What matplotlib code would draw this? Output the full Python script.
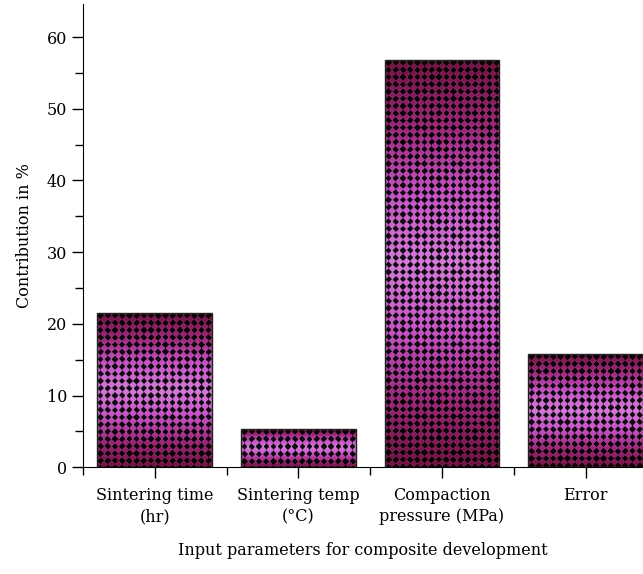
import matplotlib
matplotlib.use('Agg')
import numpy as np
import matplotlib.pyplot as plt
from matplotlib.colors import LinearSegmentedColormap
from matplotlib.ticker import MultipleLocator

params = ["Sintering time\n(hr)", "Sintering temp\n(°C)", "Compaction\npressure (MPa)", "Error"]
contribution = [21.5, 5.3, 56.8, 15.8]

plt.rcParams['font.family'] = ['DejaVu Serif']
plt.rcParams['font.size'] = 11.5

fig = plt.figure(figsize=(6.43, 5.74), dpi=100)
ax = fig.add_axes([0.129, 0.186, 0.871, 0.807])

x = np.arange(1, len(params) + 1)
bars = ax.bar(x, contribution, width=0.8, facecolor='none', edgecolor='#222222', linewidth=1.0, zorder=3)

ax.set_xlim(0.5, 4.4)
ax.set_ylim(0, 64.6)

# gradient + dotted pattern inside each bar
cmap = LinearSegmentedColormap.from_list('mg', ['#6e1540', '#9a2a7a', '#c455c4', '#d47ad8', '#c455c4', '#9a2a7a', '#6e1540'])
fig.canvas.draw()
pitch = 7.2
for b in bars:
    x0, y0 = ax.transData.transform((b.get_x(), 0))
    x1, y1 = ax.transData.transform((b.get_x() + b.get_width(), b.get_height()))
    w = int(round(x1 - x0)); h = int(round(y1 - y0))
    yy, xx = np.mgrid[0:h, 0:w]
    t = (yy + 0.5) / h
    rgb = cmap(t)[..., :3]
    dx = ((xx + 0.5) % pitch) - pitch / 2
    dy = ((yy + 0.5) % pitch) - pitch / 2
    dots = (np.abs(dx) + np.abs(dy)) < 3.2
    rgb[dots] = rgb[dots] * 0.08
    im = ax.imshow(rgb, extent=(b.get_x(), b.get_x() + b.get_width(), 0, b.get_height()),
                   aspect='auto', interpolation='bilinear', zorder=2)
    im.set_clip_path(b)

ax.set_xticks(x)
ax.set_xticklabels(params, linespacing=1.35)
ax.set_xticks(np.arange(0.5, 4.5, 1.0), minor=True)
ax.yaxis.set_major_locator(MultipleLocator(10))
ax.yaxis.set_minor_locator(MultipleLocator(5))
ax.tick_params(which='major', direction='out', length=8, width=1.0)
ax.tick_params(which='minor', direction='out', length=6, width=1.0)
ax.tick_params(axis='x', pad=6)

ax.spines['top'].set_visible(False)
ax.spines['right'].set_visible(False)

ax.set_xlabel("Input parameters for composite development", labelpad=12)
ax.set_ylabel("Contribution in %", labelpad=10)

plt.savefig("out.png", dpi=100)
